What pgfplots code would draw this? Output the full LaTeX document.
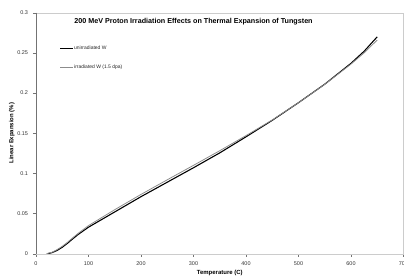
\documentclass[border=0pt]{standalone}
\usepackage{fontspec}
\setmainfont{Liberation Sans}
\usepackage{pgfplots}
\pgfplotsset{compat=1.18}
\pgfplotstableread{
T v
22 0
30 0.0012
40 0.0040
50 0.0080
60 0.0130
70 0.0185
80 0.0238
100 0.0330
150 0.0520
200 0.0710
250 0.0890
300 0.1070
350 0.1255
400 0.1455
450 0.1660
500 0.1880
550 0.2110
600 0.2370
625 0.2520
650 0.2700
}\unirr
\pgfplotstableread{
T v
20 0
30 0.0016
40 0.0050
50 0.0092
60 0.0142
70 0.0198
80 0.0252
100 0.0350
150 0.0548
200 0.0738
250 0.0920
300 0.1100
350 0.1282
400 0.1470
450 0.1665
500 0.1880
550 0.2108
600 0.2360
625 0.2500
650 0.2660
}\irr
\begin{document}
\begin{tikzpicture}
\useasboundingbox (0,0) rectangle (404bp,279bp);
\begin{axis}[
  at={(36bp,25.3bp)}, anchor=south west,
  scale only axis, width=367.5bp, height=241bp,
  xmin=0, xmax=700, ymin=0, ymax=0.3,
  xtick={0,100,...,700},
  ytick={0,0.05,0.1,0.15,0.2,0.25,0.3},
  yticklabels={0,0.05,0.1,0.15,0.2,0.25,0.3},
  xtick pos=left, ytick pos=left,
  tick align=outside,
  major tick length=3bp,
  tick style={black!55, line width=0.4pt},
  axis line style={black!20, line width=0.4pt},
  /pgf/number format/assume math mode=true,
  ticklabel style={font=\fontsize{5.5}{6.5}\selectfont, text=black!80},
  yticklabel style={xshift=-1.5bp},
  xticklabel style={yshift=-1bp},
  title={200 MeV Proton Irradiation Effects on Thermal Expansion of Tungsten},
  title style={font=\fontsize{7.2}{8}\selectfont\bfseries, at={(0.4286,0.938)}, anchor=center},
  xlabel={Temperature (C)},
  ylabel={Linear Expansion (\%)},
  xlabel style={font=\fontsize{6}{7}\selectfont\bfseries, at={(axis description cs:0.5,-0.0813)}, anchor=center},
  ylabel style={font=\fontsize{6}{7}\selectfont\bfseries, at={(axis description cs:-0.066,0.5)}, anchor=center},
  legend style={draw=none, fill=none, at={(0.056,0.88)}, anchor=north west,
    font=\fontsize{5}{6}\selectfont, row sep=9.5bp,
    nodes={inner xsep=0.3pt, text=black!85}},
  legend cell align=left,
  legend image code/.code={\draw[#1] (0bp,0bp) -- (13bp,0bp);},
]
\draw[black!55, line width=0.4pt] (rel axis cs:0,1) -- (rel axis cs:0,0) -- (rel axis cs:1,0);
\addplot[black, line width=1.1pt, no marks] table[x=T, y=v] {\unirr};
\addlegendentry{unirradiated W}
\addplot[black!45, line width=0.8pt, no marks] table[x=T, y=v] {\irr};
\addlegendentry{irradiated W (1.5 dpa)}
\end{axis}
\end{tikzpicture}
\end{document}
